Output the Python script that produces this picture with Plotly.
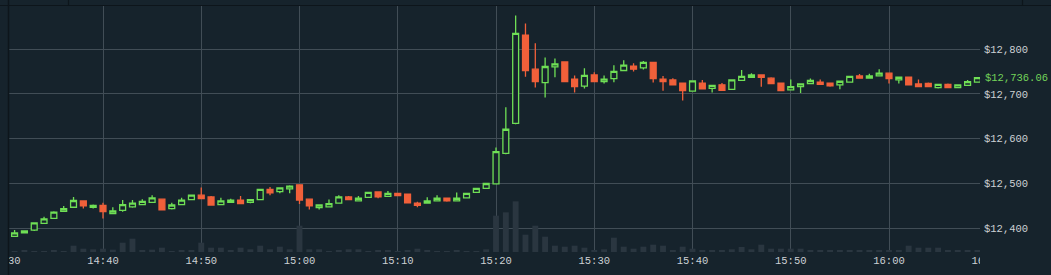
import plotly.graph_objects as go
import pandas as pd

# ---------------- data ----------------
start = "2017-12-30 14:31"
end = "2017-12-30 16:09"
times = pd.date_range(start, end, freq="1min")

opens = [12382, 12390, 12396, 12411, 12422, 12438, 12447, 12461, 12447, 12451,
         12433, 12440, 12448, 12453, 12458, 12465, 12444, 12453, 12464, 12474,
         12470, 12453, 12458, 12463, 12458, 12464, 12487, 12482, 12488, 12497,
         12465, 12446, 12448, 12456, 12470, 12461, 12469, 12481, 12471, 12478,
         12476, 12456, 12456, 12461, 12467, 12461, 12468, 12480, 12489, 12499,
         12567, 12634, 12831, 12755, 12725, 12760, 12771, 12733, 12717, 12742,
         12727, 12734, 12752, 12762, 12758, 12770, 12733, 12731, 12724, 12706,
         12724, 12712, 12720, 12710, 12730, 12737, 12742, 12735, 12724, 12709,
         12716, 12723, 12726, 12724, 12720, 12726, 12740, 12735, 12740, 12746,
         12731, 12737, 12722, 12723, 12714, 12721, 12714, 12719, 12726]
highs = [12396, 12394, 12413, 12426, 12438, 12450, 12470, 12462, 12453, 12457,
         12447, 12463, 12463, 12465, 12474, 12466, 12457, 12468, 12475, 12491,
         12472, 12468, 12466, 12472, 12465, 12488, 12492, 12491, 12496, 12498,
         12466, 12453, 12464, 12474, 12472, 12472, 12481, 12482, 12483, 12479,
         12477, 12459, 12469, 12474, 12468, 12480, 12479, 12490, 12501, 12580,
         12670, 12875, 12857, 12813, 12781, 12779, 12772, 12741, 12757, 12748,
         12741, 12764, 12775, 12768, 12773, 12771, 12740, 12735, 12725, 12730,
         12731, 12720, 12724, 12732, 12753, 12746, 12743, 12737, 12725, 12732,
         12723, 12734, 12732, 12725, 12729, 12740, 12744, 12745, 12755, 12747,
         12738, 12738, 12732, 12725, 12722, 12723, 12721, 12731, 12737]
lows = [12381, 12389, 12394, 12410, 12421, 12437, 12446, 12444, 12444, 12422,
        12432, 12437, 12446, 12452, 12457, 12440, 12442, 12452, 12463, 12465,
        12451, 12452, 12457, 12454, 12456, 12463, 12474, 12478, 12478, 12454,
        12442, 12442, 12447, 12455, 12463, 12460, 12468, 12467, 12470, 12472,
        12456, 12447, 12455, 12460, 12459, 12460, 12467, 12479, 12488, 12498,
        12565, 12632, 12738, 12714, 12692, 12737, 12726, 12703, 12712, 12726,
        12723, 12726, 12751, 12750, 12754, 12725, 12707, 12719, 12685, 12705,
        12710, 12703, 12707, 12709, 12729, 12736, 12716, 12722, 12706, 12708,
        12702, 12722, 12720, 12716, 12710, 12725, 12734, 12734, 12739, 12723,
        12723, 12719, 12715, 12715, 12712, 12713, 12713, 12718, 12725]
closes = [12390, 12394, 12412, 12421, 12436, 12444, 12462, 12450, 12451, 12437,
          12439, 12453, 12456, 12460, 12468, 12441, 12452, 12463, 12474, 12466,
          12452, 12461, 12463, 12455, 12464, 12487, 12479, 12490, 12494, 12463,
          12450, 12452, 12455, 12470, 12464, 12467, 12480, 12470, 12478, 12473,
          12457, 12451, 12461, 12467, 12461, 12467, 12478, 12489, 12500, 12571,
          12621, 12835, 12752, 12727, 12761, 12767, 12727, 12716, 12741, 12727,
          12733, 12750, 12764, 12755, 12770, 12734, 12727, 12720, 12707, 12729,
          12711, 12719, 12708, 12731, 12739, 12742, 12737, 12723, 12707, 12716,
          12722, 12730, 12721, 12718, 12728, 12739, 12735, 12740, 12746, 12734,
          12737, 12720, 12716, 12716, 12721, 12714, 12720, 12727, 12736.06]
volumes = [3, 5, 2, 2, 5, 2, 19, 10, 8, 10,
           7, 28, 40, 5, 7, 13, 2, 5, 5, 28,
           13, 13, 5, 13, 8, 19, 8, 16, 8, 79,
           8, 8, 2, 5, 8, 8, 2, 5, 5, 2,
           5, 10, 5, 2, 2, 5, 2, 2, 8, 109,
           119, 152, 52, 79, 46, 19, 16, 19, 13, 5,
           8, 43, 16, 10, 16, 22, 19, 5, 16, 10,
           5, 5, 5, 8, 15, 8, 22, 10, 10, 10,
           10, 5, 5, 5, 5, 5, 5, 5, 5, 5,
           5, 19, 13, 13, 13, 5, 5, 5, 5]
last_price = 12736.06
last_label = "$12,736.06"
price_ticks = [12400, 12500, 12600, 12700, 12800]
price_labels = ["$12,400", "$12,500", "$12,600", "$12,700", "$12,800"]
time_ticks = pd.date_range("2017-12-30 14:30", "2017-12-30 16:10", freq="10min")

# ---------------- style ----------------
BG = "#16232c"
DARK = "#0d151b"
GRID = "#414d56"
GREEN = "#6fdf55"
RED = "#f1603a"
VOL = "#2a3640"
TXT = "#cdd1d4"
FONT = dict(family="Liberation Mono, DejaVu Sans Mono, monospace", size=10.5, color=TXT)

W, H = 1051, 275
L_PX, R_PX = 8, 980          # plot left / right pixel
T_PX, B_PX = 6, 252          # plot top / bottom pixel
PX_PER_MIN = 9.825
X0_PX = 4.75                 # pixel of 14:30
base = pd.Timestamp("2017-12-30 14:30")


def t_at(px):
    return base + pd.Timedelta(minutes=(px - X0_PX) / PX_PER_MIN)


# price scale: 12800 at y=49, 12400 at y=228.3
dollars_per_px = 400 / (228.3 - 49)
p_top = 12800 + (49 - T_PX) * dollars_per_px
p_bot = 12800 - (B_PX - 49) * dollars_per_px
plot_h = B_PX - T_PX

fig = go.Figure()
fig.add_trace(go.Candlestick(
    x=times, open=opens, high=highs, low=lows, close=closes,
    xaxis="x", yaxis="y",
    increasing=dict(line=dict(color=GREEN, width=1.3), fillcolor=BG),
    decreasing=dict(line=dict(color=RED, width=1.3), fillcolor=RED),
    whiskerwidth=0, showlegend=False, hoverinfo="skip",
))
fig.add_trace(go.Bar(
    x=times, y=volumes, xaxis="x", yaxis="y2",
    marker=dict(color=VOL, line=dict(width=0)),
    showlegend=False, hoverinfo="skip",
))
# helper trace carrying the full-width time label axis
fig.add_trace(go.Scatter(
    x=[time_ticks[0], time_ticks[-1]], y=[0, 0], xaxis="x2", yaxis="y3",
    mode="lines", line=dict(width=0), opacity=0,
    showlegend=False, hoverinfo="skip",
))

fig.update_layout(
    width=W, height=H,
    margin=dict(l=0, r=0, t=T_PX, b=H - B_PX, pad=0, autoexpand=False),
    paper_bgcolor=BG, plot_bgcolor="rgba(0,0,0,0)",
    font=FONT,
    boxgap=0.4, boxgroupgap=0, bargap=0.4,
    showlegend=False,
    xaxis=dict(
        domain=[L_PX / W, R_PX / W],
        range=[t_at(L_PX), t_at(R_PX)],
        type="date", rangeslider=dict(visible=False),
        tickvals=list(time_ticks), showticklabels=False,
        showgrid=True, gridcolor=GRID, gridwidth=1,
        zeroline=False, showline=False, ticks="", automargin=False,
    ),
    yaxis=dict(
        domain=[0, 1], anchor="x", side="right",
        range=[p_bot, p_top],
        tickvals=price_ticks, ticktext=price_labels,
        showgrid=True, gridcolor=GRID, gridwidth=1,
        zeroline=False, showline=False, ticks="",
        tickfont=FONT, ticklabelstandoff=3, automargin=False,
    ),
    yaxis2=dict(
        overlaying="y", anchor="x", range=[0, plot_h * 3], visible=False,
        automargin=False,
    ),
    xaxis2=dict(
        domain=[0, 1], anchor="y3",
        range=[t_at(0), t_at(W)], type="date",
        tickvals=list(time_ticks), tickformat="%H:%M",
        showgrid=False, zeroline=False, showline=False, ticks="",
        tickfont=FONT, ticklabeloverflow="allow", automargin=False,
    ),
    yaxis3=dict(domain=[0, 1], anchor="x2", range=[0, 1], visible=False,
                automargin=False),
)

fig.add_annotation(
    x=R_PX / W, xref="paper", xanchor="left", xshift=3,
    y=last_price, yref="y", yanchor="middle",
    text=last_label, showarrow=False,
    font=dict(family=FONT["family"], size=10.5, color="#74d45a"),
)

def py(px):
    return (B_PX - px) / plot_h

shapes = [
    dict(type="rect", xref="paper", yref="paper", x0=0, x1=L_PX / W,
         y0=-0.2, y1=1.2, fillcolor=BG, line=dict(width=0), layer="above"),
    dict(type="rect", xref="paper", yref="paper", x0=R_PX / W, x1=1.0,
         y0=-0.2, y1=0, fillcolor=BG, line=dict(width=0), layer="above"),
    dict(type="line", xref="paper", yref="paper", x0=0, x1=1,
         y0=py(5.5), y1=py(5.5), line=dict(color=DARK, width=1.2), layer="above"),
    dict(type="line", xref="paper", yref="paper", x0=8.5 / W, x1=8.5 / W,
         y0=-0.2, y1=1.2, line=dict(color=DARK, width=1.5), layer="above"),
    dict(type="line", xref="paper", yref="paper", x0=68.5 / W, x1=68.5 / W,
         y0=py(5.5), y1=1.2, line=dict(color=DARK, width=1.2), layer="above"),
    dict(type="line", xref="paper", yref="paper", x0=1022.5 / W, x1=1022.5 / W,
         y0=py(5.5), y1=1.2, line=dict(color=DARK, width=1.2), layer="above"),
]
fig.update_layout(shapes=shapes)

fig.write_html("out.html")
